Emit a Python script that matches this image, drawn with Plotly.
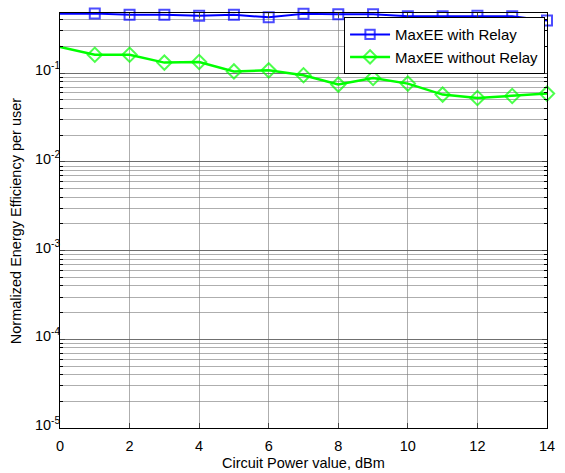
import plotly.graph_objects as go

x_vals = list(range(0, 15))
relay = [0.47, 0.472, 0.456, 0.456, 0.445, 0.456, 0.428, 0.468, 0.463, 0.463, 0.439, 0.439, 0.445, 0.439, 0.395]
no_relay = [0.198, 0.162, 0.162, 0.132, 0.134, 0.105, 0.108, 0.095, 0.0746, 0.0886, 0.0765, 0.0575, 0.0527, 0.0555, 0.059]
x_ticks = [0, 2, 4, 6, 8, 10, 12, 14]
y_ticks = [1e-5, 1e-4, 1e-3, 1e-2, 1e-1]
y_ticktext = ["10<sup>-5</sup>", "10<sup>-4</sup>", "10<sup>-3</sup>", "10<sup>-2</sup>", "10<sup>-1</sup>"]
series_names = ["MaxEE with Relay", "MaxEE without Relay"]

msize_sq = [0] + [10] * (len(x_vals) - 1)
msize_di = [0] + [11] * (len(x_vals) - 1)

fig = go.Figure()
fig.add_trace(go.Scatter(
    x=x_vals, y=relay, name=series_names[0], mode="lines+markers",
    line=dict(color="#0000ff", width=2),
    marker=dict(symbol="square-open", size=msize_sq, color="#0000ff", line=dict(width=2, color="#0000ff")),
    cliponaxis=False,
))
fig.add_trace(go.Scatter(
    x=x_vals, y=no_relay, name=series_names[1], mode="lines+markers",
    line=dict(color="#00ff00", width=2.5),
    marker=dict(symbol="diamond-open", size=msize_di, color="#00ff00", line=dict(width=2, color="#00ff00")),
    cliponaxis=False,
))

axis_font = dict(family="Liberation Sans, Arial, sans-serif", size=14.5, color="#000")
fig.update_layout(
    width=565, height=473,
    margin=dict(l=60, r=10, t=13, b=45),
    paper_bgcolor="white", plot_bgcolor="white",
    font=axis_font,
    showlegend=True,
    legend=dict(
        x=0.996, y=0.99, xanchor="right", yanchor="top",
        bgcolor="white", bordercolor="black", borderwidth=1,
        font=dict(family="Liberation Sans, Arial, sans-serif", size=15, color="#000"),
        tracegroupgap=0, itemwidth=40,
    ),
    xaxis=dict(
        range=[0, 14], tickvals=x_ticks, ticks="inside", ticklen=5,
        showline=True, linecolor="black", linewidth=1, mirror="ticks",
        showgrid=True, gridcolor="rgba(120,120,120,0.6)", gridwidth=1,
        zeroline=False, ticklabelstandoff=5,
        tickfont=axis_font,
    ),
    yaxis=dict(
        type="log", range=[-5, -0.32], tickvals=y_ticks, ticktext=y_ticktext,
        ticks="inside", ticklen=5,
        showline=True, linecolor="black", linewidth=1, mirror="ticks",
        showgrid=True, gridcolor="rgba(90,90,90,0.75)", gridwidth=1,
        minor=dict(dtick="D1", ticks="inside", ticklen=3, showgrid=True,
                   gridcolor="rgba(120,120,120,0.6)", gridwidth=1, tickcolor="black"),
        zeroline=False, ticklabelstandoff=-4, ticklabelshift=-3,
        tickfont=axis_font,
    ),
    annotations=[
        dict(text="Normalized Energy Efficiency per user", xref="paper", yref="paper",
             x=-45 / 495, y=0.5, xanchor="center", yanchor="middle", textangle=-90,
             showarrow=False, font=axis_font),
        dict(text="Circuit Power value, dBm", xref="paper", yref="paper",
             x=0.5, y=-(463 - 428) / 415, xanchor="center", yanchor="middle",
             showarrow=False, font=axis_font),
    ],
)

fig.write_html("out.html")
